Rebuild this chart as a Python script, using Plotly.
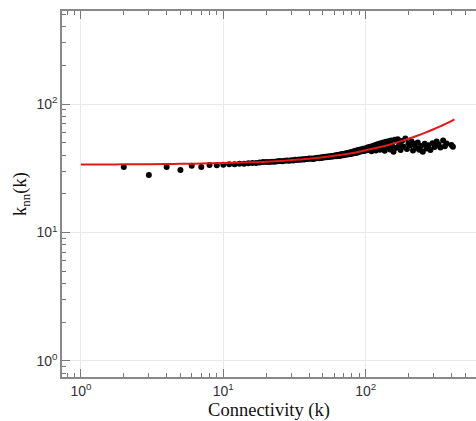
import plotly.graph_objects as go

# Observed data points: connectivity k and average nearest-neighbour connectivity knn(k)
k_obs = [2, 3, 4, 5, 6, 7, 8,
         9, 10, 11, 12, 13, 14, 15, 16, 17, 18, 19, 20,
         21, 22, 23, 24, 25, 26, 27, 28, 29, 30, 31, 32, 33, 34, 35, 36, 37, 38, 39, 40,
         41, 42, 43, 44, 45, 46, 47, 48, 49, 50, 51, 52, 53, 54, 55, 56, 57, 58, 59, 60,
         61, 62, 63, 64, 65, 66, 67, 68, 69, 70, 71, 72, 73, 74, 75, 76, 77, 78, 79, 80,
         81, 82, 83, 84, 85, 86, 87, 88, 89, 90, 92, 94, 96, 98, 100,
         102, 104, 106, 108, 110, 112, 114, 116, 118, 120, 122, 124, 126, 128, 130,
         133, 136, 139, 142, 145, 148, 151, 154, 157, 160, 164, 168, 172, 176, 180,
         185, 190, 195, 200,
         205, 210, 215, 220, 226, 232, 238, 245, 252, 260, 268, 276, 285, 295, 305,
         315, 325, 335, 350, 360, 370, 400, 410]
knn_obs = [32.4, 28.0, 32.4, 30.6, 33.1, 32.4, 33.5,
           33.3, 33.6, 33.9, 34.0, 34.2, 34.3, 34.6, 34.8, 34.7, 35.0, 35.3, 35.4,
           35.4, 35.6, 35.5, 35.9, 36.0, 35.9, 36.2, 36.3, 36.1, 36.5, 36.4, 36.8, 36.6, 37.0, 36.8, 37.2, 37.0, 37.4, 37.3, 37.6,
           37.5, 37.7, 37.4, 37.9, 37.8, 38.2, 37.9, 38.3, 38.0, 38.6, 38.4, 38.8, 38.5, 39.0, 38.7, 39.2, 38.9, 39.4, 39.0, 39.5,
           39.8, 39.2, 40.1, 39.5, 40.3, 39.4, 40.6, 40.0, 40.8, 39.9, 41.0, 40.3, 41.4, 40.5, 41.6, 40.6, 41.9, 40.9, 42.2, 41.0,
           42.5, 41.3, 42.8, 41.5, 43.2, 41.8, 43.5, 42.0, 43.8, 42.3, 44.2, 42.8, 44.9, 43.1, 45.3,
           43.6, 46.0, 44.1, 46.5, 42.8, 47.2, 44.5, 47.8, 43.5, 48.4, 45.2, 49.0, 44.0, 49.6, 45.8,
           50.2, 43.2, 50.8, 46.4, 51.4, 44.2, 52.0, 47.0, 42.5, 52.6, 45.6, 53.2, 48.0, 43.8, 51.5,
           46.5, 53.8, 44.6, 49.5,
           47.5, 51.0, 43.5, 48.8, 45.5, 50.2, 44.0, 47.2, 42.5, 49.0, 45.0, 47.8, 43.8, 49.5, 46.2,
           51.0, 48.5, 45.8, 52.0, 47.0, 49.2, 48.0, 46.5]

# Fitted curve (red)
k_fit = [1, 1.5, 2, 3, 4, 5, 7, 10, 14, 20, 28, 40, 55, 70, 85, 100, 120, 140,
         160, 180, 200, 230, 260, 300, 340, 380, 420]
knn_fit = [33.8, 33.85, 33.9, 34.0, 34.1, 34.2, 34.4, 34.7, 35.1, 35.6, 36.4, 37.5,
           39.0, 40.5, 42.0, 43.6, 45.6, 47.6, 49.6, 51.6, 53.6, 56.6, 59.6, 63.6,
           67.6, 71.6, 76.0]

major_vals = [1, 10, 100]
major_text = ["10<sup>0</sup>", "10<sup>1</sup>", "10<sup>2</sup>"]
minor_vals = [0.8, 0.9] + [m * d for d in (1, 10, 100) for m in range(2, 10)]

fig = go.Figure()
fig.add_trace(go.Scatter(x=k_obs, y=knn_obs, mode="markers",
                         marker=dict(color="black", size=6), showlegend=False))
fig.add_trace(go.Scatter(x=k_fit, y=knn_fit, mode="lines", line_shape="spline",
                         line=dict(color="#e01818", width=2), showlegend=False))

axis_common = dict(
    type="log", tickmode="array", tickvals=major_vals, ticktext=major_text,
    ticks="inside", ticklen=8, tickwidth=1.2, tickcolor="#777",
    showline=True, linecolor="#888", linewidth=1.5,
    showgrid=True, gridcolor="#e9e9e9", gridwidth=1, zeroline=False,
    tickfont=dict(family="Liberation Sans, Arial, sans-serif", size=14, color="#333"),
    minor=dict(tickmode="array", tickvals=minor_vals, ticks="inside", ticklen=4,
               tickcolor="#777", tickwidth=1, showgrid=False),
)

fig.update_xaxes(**axis_common, mirror="ticks", range=[-0.133, 2.775],
                 title=dict(text="Connectivity (k)", standoff=6,
                            font=dict(family="Liberation Serif, Times New Roman, serif", size=18.5, color="#111")))
fig.update_yaxes(**axis_common, mirror=False, range=[-0.125, 2.724],
                 title=dict(text="k<sub>nn</sub>(k)", standoff=5,
                            font=dict(family="Liberation Serif, Times New Roman, serif", size=18.5, color="#111")))

fig.update_layout(width=476, height=421, margin=dict(l=62, r=0, t=11, b=44),
                  paper_bgcolor="white", plot_bgcolor="white")

fig.write_html("out.html")
